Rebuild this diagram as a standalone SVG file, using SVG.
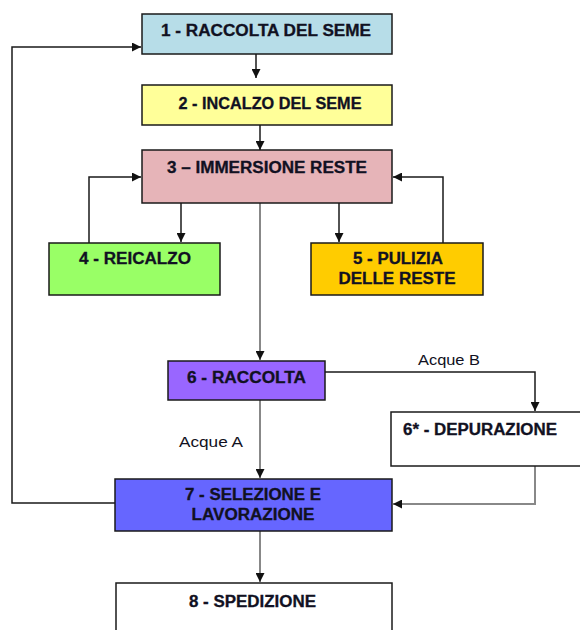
<svg xmlns="http://www.w3.org/2000/svg" width="580" height="630" viewBox="0 0 580 630">
<style>
  .box { stroke: #1a1a1a; stroke-width: 1.5; }
  .t { font-family: "Liberation Sans", Arial, sans-serif; font-weight: bold; font-size: 15.8px; fill: #111122; stroke: #111122; stroke-width: 0.3; text-anchor: middle; }
  .lbl { font-family: "Liberation Sans", Arial, sans-serif; font-size: 15.5px; fill: #111122; }
  .ln { fill: none; stroke: #1a1a1a; stroke-width: 1.5; }
  .lg { fill: none; stroke: #888888; stroke-width: 2; }
</style>
<defs>
  <marker id="ah" viewBox="0 0 10 10" refX="10" refY="5" markerWidth="9" markerHeight="9" markerUnits="userSpaceOnUse" orient="auto">
    <path d="M0,0 L10,5 L0,10 z" fill="#111"/>
  </marker>
</defs>
<rect width="580" height="630" fill="#ffffff"/>
<g id="connectors">
  <path class="ln" d="M256,54 V78" marker-end="url(#ah)"/>
  <path class="ln" d="M260,125 V150" marker-end="url(#ah)"/>
  <path class="ln" d="M116,503 H12 V47 H141" marker-end="url(#ah)"/>
  <path class="ln" d="M89,243 V177 H141" marker-end="url(#ah)"/>
  <path class="ln" d="M181,203 V242" marker-end="url(#ah)"/>
  <path class="ln" d="M339,203 V242" marker-end="url(#ah)"/>
  <path class="ln" d="M443,243 V177 H393" marker-end="url(#ah)"/>
  <path class="lg" d="M260,203 V360" marker-end="url(#ah)"/>
  <path class="ln" d="M325,372 H535 V411" marker-end="url(#ah)"/>
  <path class="lg" d="M260,400 V478" marker-end="url(#ah)"/>
  <path class="lg" d="M535,466 V504 H393" marker-end="url(#ah)"/>
  <path class="lg" d="M260,531 V582" marker-end="url(#ah)"/>
  <text class="lbl" x="418" y="365" textLength="62" lengthAdjust="spacingAndGlyphs">Acque B</text>
  <text class="lbl" x="179" y="447" textLength="64" lengthAdjust="spacingAndGlyphs">Acque A</text>
</g>
<g id="n1">
  <rect class="box" x="142" y="14" width="250" height="40" fill="#B7DDE8"/>
  <text class="t" x="266" y="36" textLength="210" lengthAdjust="spacingAndGlyphs">1 - RACCOLTA DEL SEME</text>
</g>
<g id="n2">
  <rect class="box" x="142" y="85" width="250" height="40" fill="#FFFF99"/>
  <text class="t" x="270" y="109" textLength="183" lengthAdjust="spacingAndGlyphs">2 - INCALZO DEL SEME</text>
</g>
<g id="n3">
  <rect class="box" x="142" y="150" width="250" height="53" fill="#E6B4B8"/>
  <text class="t" x="267" y="173" textLength="200" lengthAdjust="spacingAndGlyphs">3 – IMMERSIONE RESTE</text>
</g>
<g id="n4">
  <rect class="box" x="49" y="243" width="171" height="52" fill="#99FF66"/>
  <text class="t" x="135" y="264" textLength="112" lengthAdjust="spacingAndGlyphs">4 - REICALZO</text>
</g>
<g id="n5">
  <rect class="box" x="311" y="243" width="172" height="52" fill="#FFCC00"/>
  <text class="t" x="398" y="264" textLength="90" lengthAdjust="spacingAndGlyphs">5 - PULIZIA</text>
  <text class="t" x="397" y="284" textLength="117" lengthAdjust="spacingAndGlyphs">DELLE RESTE</text>
</g>
<g id="n6">
  <rect class="box" x="168" y="361" width="157" height="39" fill="#9966FF"/>
  <text class="t" x="246.5" y="383" textLength="119" lengthAdjust="spacingAndGlyphs">6 - RACCOLTA</text>
</g>
<g id="n6s">
  <rect class="box" x="391" y="412" width="192" height="54" fill="#FFFFFF"/>
  <text class="t" x="403" y="435" style="text-anchor:start" textLength="154" lengthAdjust="spacingAndGlyphs">6* - DEPURAZIONE</text>
</g>
<g id="n7">
  <rect class="box" x="115" y="479" width="277" height="52" fill="#6666FF"/>
  <text class="t" x="253" y="500" textLength="136" lengthAdjust="spacingAndGlyphs">7 - SELEZIONE E</text>
  <text class="t" x="253" y="520" textLength="123" lengthAdjust="spacingAndGlyphs">LAVORAZIONE</text>
</g>
<g id="n8">
  <rect class="box" x="116" y="583" width="276" height="60" fill="#FFFFFF"/>
  <text class="t" x="252.5" y="607" textLength="127" lengthAdjust="spacingAndGlyphs">8 - SPEDIZIONE</text>
</g>
</svg>
